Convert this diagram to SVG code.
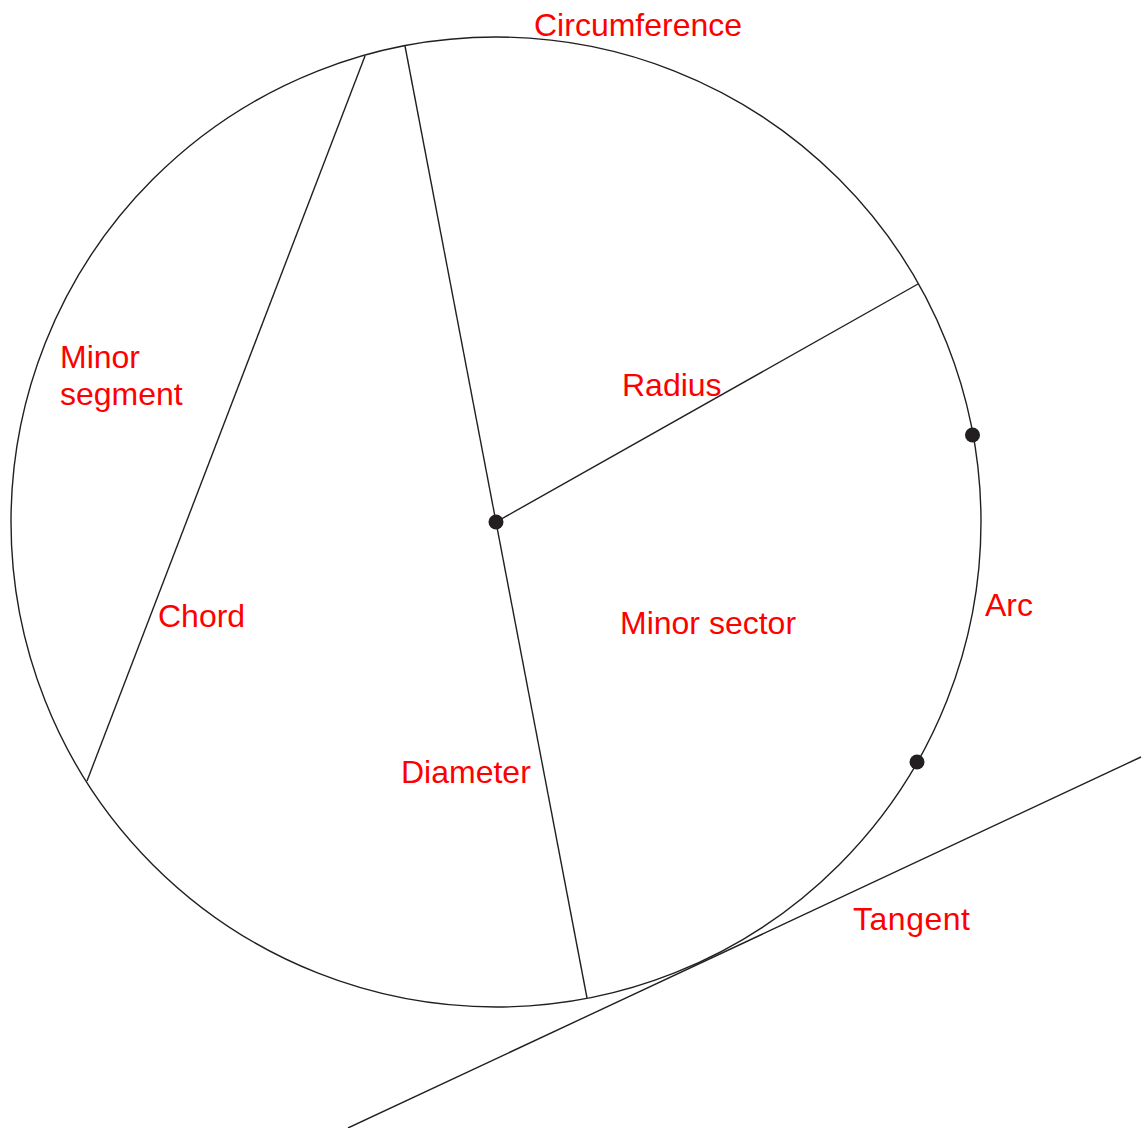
<svg xmlns="http://www.w3.org/2000/svg" width="1144" height="1128" viewBox="0 0 1144 1128">
<style>
.ln{fill:none;stroke:#231f20;stroke-width:1.4}
.dot{fill:#231f20}
.lbl{font-family:"Liberation Sans",Arial,sans-serif;font-size:32px;fill:#ff0000}
</style>
<rect width="1144" height="1128" fill="#ffffff"/>
<g id="circle">
<circle class="ln" cx="496" cy="522" r="485"/>
</g>
<g id="connectors">
<line id="diameter-line" class="ln" x1="405" y1="46" x2="587" y2="998"/>
<line id="chord-line" class="ln" x1="365" y1="56" x2="87" y2="781"/>
<line id="radius-line" class="ln" x1="496" y1="522" x2="918" y2="284"/>
<line id="tangent-line" class="ln" x1="348" y1="1128" x2="1141" y2="757"/>
</g>
<g id="points">
<circle id="center" class="dot" cx="496" cy="522" r="7.5"/>
<circle id="arc-start" class="dot" cx="972.5" cy="435" r="7.5"/>
<circle id="arc-end" class="dot" cx="917" cy="762" r="7.5"/>
</g>
<g id="labels">
<text id="lbl-circumference" class="lbl" x="534" y="36">Circumference</text>
<text id="lbl-minor-segment" class="lbl" x="60" y="368">Minor<tspan x="60" y="405">segment</tspan></text>
<text id="lbl-radius" class="lbl" x="622" y="396">Radius</text>
<text id="lbl-chord" class="lbl" x="158" y="627">Chord</text>
<text id="lbl-arc" class="lbl" x="985" y="616">Arc</text>
<text id="lbl-minor-sector" class="lbl" x="620" y="634">Minor sector</text>
<text id="lbl-diameter" class="lbl" x="401" y="783">Diameter</text>
<text id="lbl-tangent" class="lbl" x="853" y="930" textLength="117">Tangent</text>
</g>
</svg>
